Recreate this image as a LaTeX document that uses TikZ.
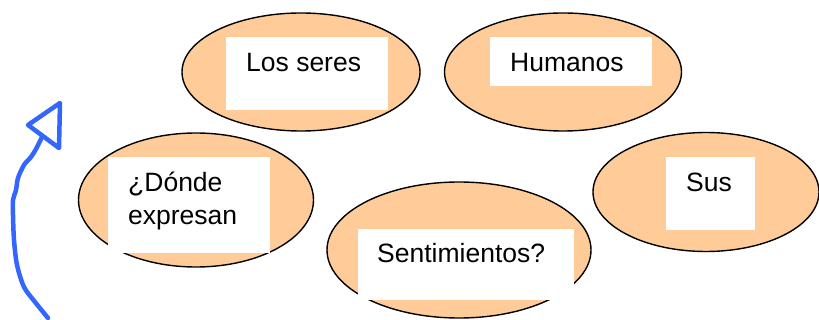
\documentclass[tikz,border=0pt]{standalone}
\usepackage{fontspec}
\setmainfont{Liberation Sans}
\usepackage{tikz}
\usetikzlibrary{shapes,shapes.geometric,positioning,calc}
\definecolor{peach}{RGB}{255,204,153}
\definecolor{penblue}{RGB}{51,102,255}
\tikzset{oval/.style={
    ellipse,
    draw,
    line width=1.4pt,
    fill=peach,
    inner sep=0pt,
  }}
\tikzset{white_box/.style={
    rectangle,
    fill=white,
    inner sep=0pt,
  }}
\begin{document}
\begin{tikzpicture}[x=1pt,y=-1pt,
        word/.style={
          anchor=base west, inner sep=0pt,
          font=\fontsize{26.5}{33}\selectfont, align=left
        },
        scribble/.style={
          draw=penblue, line width=4.5pt, line cap=round, line join=round
        }]
        \useasboundingbox (0,0) rectangle (819,320);

        % Ovals
        \node (seres) [oval, minimum width=238pt, minimum height=118pt] at (301,72) {};
        \node (humanos) [oval, minimum width=237pt, minimum height=118pt] at (563,72) {};
        \node (donde) [oval, minimum width=235pt, minimum height=134pt] at (196,200) {};
        \node (sentim) [oval, minimum width=264pt, minimum height=136pt] at (459,250) {};
        \node (sus) [oval, minimum width=226pt, minimum height=119pt] at (706,192) {};

        % White boxes on top
        \node (seresBox) [white_box, minimum width=162pt, minimum height=73pt] at (307,73.5) {};
        \node (humanosBox) [white_box, minimum width=162pt, minimum height=49pt] at (571,61.5) {};
        \node (dondeBox) [white_box, minimum width=162pt, minimum height=96pt] at (189,205) {};
        \node (sentimBox) [white_box, minimum width=216pt, minimum height=71pt] at (466,264.5) {};
        \node (susBox) [white_box, minimum width=89pt, minimum height=73pt] at (710.5,193.5) {};

        % Texts
        \node (seresTxt) [word] at (246,72) {Los seres};
        \node (humanosTxt) [word] at (510,72) {Humanos};
        \node (dondeTxt) [word] at (128,225) {¿Dónde\\expresan};
        \node (sentimTxt) [word] at (377,263) {Sentimientos?};
        \node (susTxt) [word] at (686,192) {Sus};

        % Hand drawn arrow
        \draw [scribble] plot [smooth] coordinates {(48,318) (35,302) (24,287) (17,265) (14,240) (13,215) (13,200) (16,190) (18,178) (24,165) (31,157) (36,149) (42,137)};
        \draw [scribble] (60,103) -- (59,148) -- (28,125) -- cycle;

      \end{tikzpicture}
\end{document}
